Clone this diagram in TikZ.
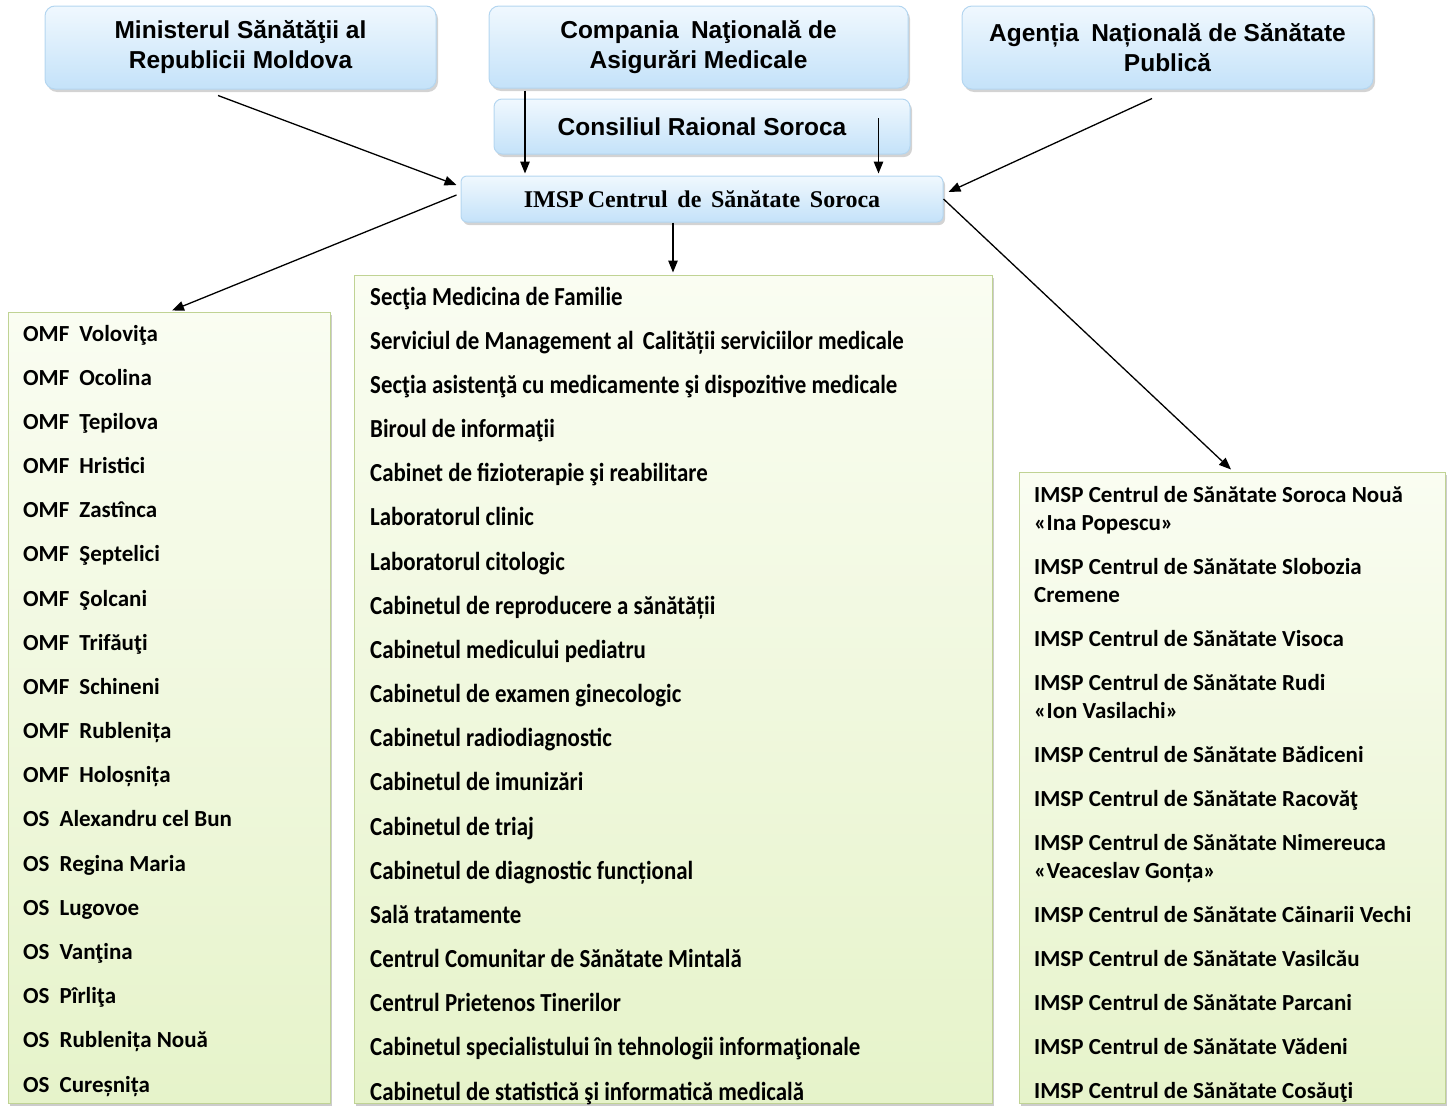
\documentclass[tikz,border=0pt]{standalone}
\usepackage{fontspec}
\usepackage{graphicx}
\setmainfont{Carlito}
\newfontfamily\arialf{Liberation Sans}
\newfontfamily\timesf{Liberation Serif}
\usetikzlibrary{arrows.meta,shadows,calc}
\definecolor{bluetop}{RGB}{240,248,254}
\definecolor{bluebot}{RGB}{196,226,249}
\definecolor{blueline}{RGB}{180,214,240}
\definecolor{greentop}{RGB}{250,253,242}
\definecolor{greenbot}{RGB}{230,243,202}
\definecolor{greenline}{RGB}{192,211,148}
\newcommand{\dsp}{\hspace{10pt}}
\begin{document}
\begin{tikzpicture}[x=1pt,y=-1pt,
  topbox/.style={rounded corners=10pt, draw=blueline, line width=1pt,
    top color=bluetop, bottom color=bluebot,
    drop shadow={opacity=0.35, shadow xshift=2pt, shadow yshift=-3pt},
    align=center, inner sep=0pt,
    font=\arialf\bfseries\fontsize{24.5}{30}\selectfont},
  listbox/.style={draw=greenline, line width=1pt,
    top color=greentop, bottom color=greenbot,
    drop shadow={opacity=0.4, shadow xshift=2pt, shadow yshift=-3pt},
    inner sep=0pt},
  ltext/.style={anchor=base west, inner sep=0pt, font=\bfseries\fontsize{23}{28}\selectfont},
  mtext/.style={anchor=base west, inner sep=0pt, font=\bfseries\fontsize{26}{30}\selectfont},
  arr/.style={line width=1.3pt, -{Triangle[length=12pt,width=9.5pt]}}
]
\useasboundingbox (0,0) rectangle (1454,1111);

% top boxes
\node[topbox, minimum width=391pt, minimum height=83pt] (b1) at (240.5,47.5)
  {Ministerul Sănătăţii al\\Republicii Moldova};
\node[topbox, minimum width=419pt, minimum height=82pt] (b2) at (698.5,47)
  {Compania\hspace{0.5em}Naţională de\\Asigurări Medicale};
\node[topbox, minimum width=411pt, minimum height=83pt] (b3) at (1167.5,47.5)
  {Agenția\hspace{0.5em}Națională de Sănătate\\Publică};
\node[topbox, rounded corners=8pt, minimum width=416pt, minimum height=55pt] (b4) at (702,126.5)
  {Consiliul Raional Soroca};
\node[topbox, rounded corners=6pt, minimum width=482pt, minimum height=46pt,
  font=\timesf\bfseries\fontsize{24}{28}\selectfont] (c) at (702,199)
  {IMSP\,Centrul\hspace{0.4em}de\hspace{0.4em}Sănătate\hspace{0.4em}Soroca};

% list boxes
\node[listbox, minimum width=322pt, minimum height=791pt] (L) at (169,707.5) {};
\node[listbox, minimum width=638pt, minimum height=828pt] (M) at (673,689) {};
\node[listbox, minimum width=426pt, minimum height=631pt] (R) at (1232,787.5) {};

% left list
\foreach \txt [count=\i from 0] in {OMF\dsp Voloviţa, OMF\dsp Ocolina, OMF\dsp Ţepilova,
  OMF\dsp Hristici, OMF\dsp Zastînca, OMF\dsp Şeptelici, OMF\dsp Şolcani, OMF\dsp Trifăuţi,
  OMF\dsp Schineni, OMF\dsp Rublenița, OMF\dsp Holoșnița, OS\dsp Alexandru cel Bun,
  OS\dsp Regina Maria, OS\dsp Lugovoe, OS\dsp Vanţina, OS\dsp Pîrliţa,
  OS\dsp Rublenița Nouă, OS\dsp Cureșnița}
  \node[ltext] (l\i) at (23,341+44.18*\i) {\txt};

% middle list
\foreach \txt [count=\i from 0] in {Secţia Medicina de Familie,
  Serviciul de Management al\, Calității serviciilor medicale,
  Secţia asistenţă cu medicamente şi dispozitive medicale,
  Biroul de informaţii, Cabinet de fizioterapie şi reabilitare,
  Laboratorul clinic, Laboratorul citologic,
  Cabinetul de reproducere a sănătății, Cabinetul medicului pediatru,
  Cabinetul de examen ginecologic, Cabinetul radiodiagnostic,
  Cabinetul de imunizări, Cabinetul de triaj,
  Cabinetul de diagnostic funcțional, Sală tratamente,
  Centrul Comunitar de Sănătate Mintală, Centrul Prietenos Tinerilor,
  Cabinetul specialistului în tehnologii informaţionale,
  Cabinetul de statistică şi informatică medicală}
  \node[mtext] (m\i) at (370,305+44.17*\i) {\scalebox{0.88}[1]{\txt}};

% right list
\foreach \txt/\yy [count=\i from 0] in {
  IMSP Centrul de Sănătate Soroca Nouă/502.5, «Ina Popescu»/530.5,
  IMSP Centrul de Sănătate Slobozia/574.5, Cremene/602.5,
  IMSP Centrul de Sănătate Visoca/646.5,
  IMSP Centrul de Sănătate Rudi/690.5, «Ion Vasilachi»/718.5,
  IMSP Centrul de Sănătate Bădiceni/762.5,
  IMSP Centrul de Sănătate Racovăţ/806.5,
  IMSP Centrul de Sănătate Nimereuca/850.5, «Veaceslav Gonța»/878.5,
  IMSP Centrul de Sănătate Căinarii Vechi/922.5,
  IMSP Centrul de Sănătate Vasilcău/966.5,
  IMSP Centrul de Sănătate Parcani/1010.5,
  IMSP Centrul de Sănătate Vădeni/1054.5,
  IMSP Centrul de Sănătate Cosăuţi/1098.5}
  \node[ltext] (r\i) at (1034,\yy) {\txt};

% connectors
\coordinate (p1) at ($(b1.south)+(-22.5,6)$);
\coordinate (p2) at ($(b2.south)+(-173.5,2)$);
\coordinate (p3) at ($(b4.east)+(-32,-8.5)$);
\coordinate (p4) at ($(b3.south)+(-15.5,9)$);
\coordinate (p6) at ($(c.south)+(-29,0)$);
\draw[arr] (p1) -- ($(c.west)+(-4,-14)$);
\draw[arr, shorten >=2pt] (p2) -- (p2 |- c.north);
\draw[arr, shorten >=2pt] (p3) -- (p3 |- c.north);
\draw[arr] (p4) -- ($(c.east)+(5,-7)$);
\draw[arr] ($(c.west)+(-4,-4)$) -- ($(L.north)+(3,-1)$);
\draw[arr, shorten >=2pt] (p6) -- (p6 |- M.north);
\draw[arr] (c.east) -- ($(R.north)+(-1,-2)$);
\end{tikzpicture}
\end{document}
